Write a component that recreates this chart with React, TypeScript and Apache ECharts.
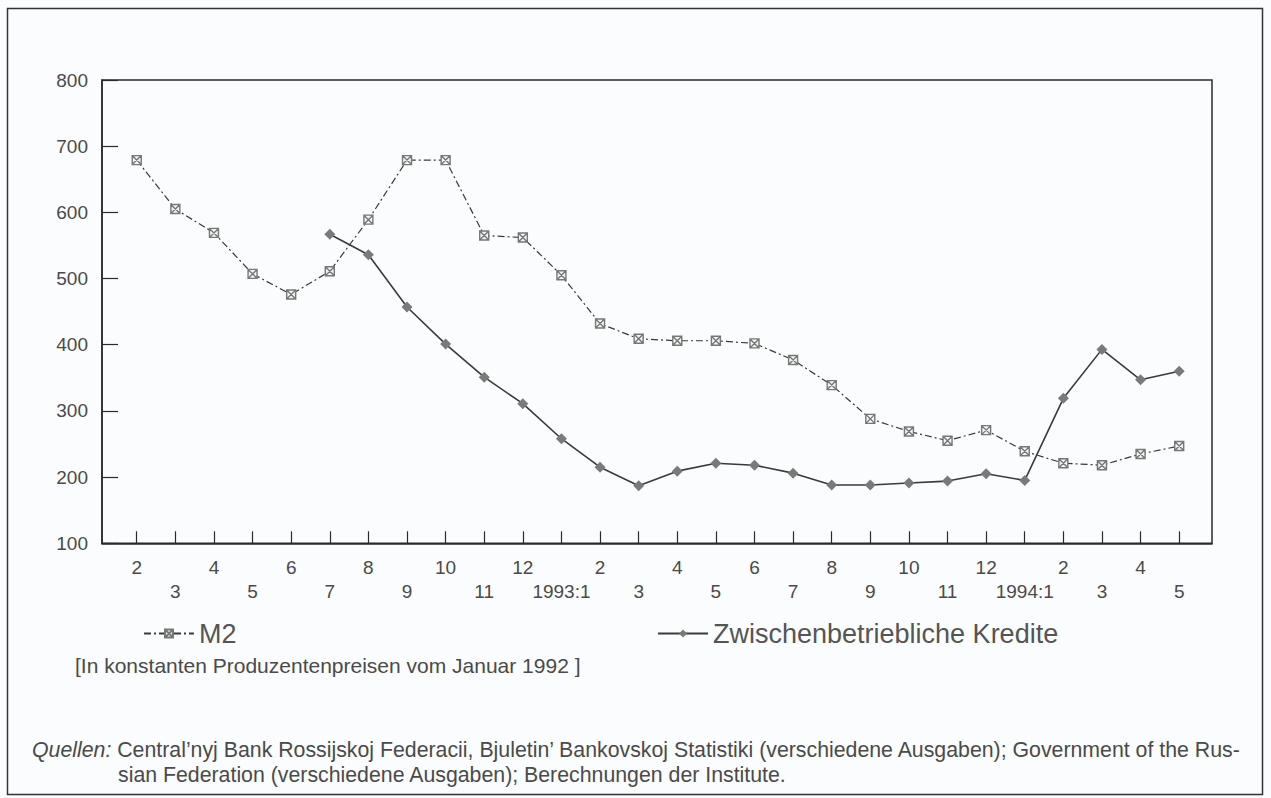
import React, { useEffect, useRef } from "react";
import * as echarts from "echarts";

const xLabels = ["2","3","4","5","6","7","8","9","10","11","12","1993:1","2","3","4","5","6","7","8","9","10","11","12","1994:1","2","3","4","5"];
const m2Values = [679, 605, 569, 507, 476, 511, 589, 679, 679, 565, 562, 505, 432, 409, 406, 406, 402, 377, 339, 288, 269, 255, 271, 239, 221, 218, 235, 247];
const krediteValues: (number | null)[] = [null, null, null, null, null, 567, 536, 457, 401, 351, 311, 258, 215, 187, 209, 221, 218, 206, 188, 188, 191, 194, 205, 195, 319, 393, 347, 360];
const yTicks = [100, 200, 300, 400, 500, 600, 700, 800];

const FONT = "'Liberation Sans', Arial, sans-serif";
const TEXT = "#4a4a4a";
const LINE = "#3a3a3a";

const m2Symbol = "path://M0,0L10,0L10,10L0,10Z M0,0L10,10 M10,0L0,10";

export default function App() {
  const ref = useRef<HTMLDivElement>(null);
  useEffect(() => {
    if (!ref.current) return;
    const chart = echarts.init(ref.current, null, { renderer: "svg" });
    const idx = xLabels.map((_, i) => i);
    chart.setOption({
      animation: false,
      backgroundColor: "#fbfcfd",
      textStyle: { fontFamily: FONT },
      grid: {
        left: 102, top: 80, width: 1110, height: 463.3,
        show: true, borderColor: "#2a2a2a", borderWidth: 1.5, backgroundColor: "transparent",
      },
      xAxis: {
        type: "value",
        min: -0.9,
        max: 27.85,
        splitLine: { show: false },
        axisLine: { show: true, onZero: false, lineStyle: { color: "#2a2a2a", width: 1.5 } },
        axisTick: { show: true, inside: true, length: 12, customValues: idx, lineStyle: { color: "#2a2a2a", width: 1.2 } },
        axisLabel: {
          customValues: idx,
          margin: 12,
          fontSize: 19,
          lineHeight: 24,
          color: TEXT,
          fontFamily: FONT,
          formatter: (v: number) => {
            const i = Math.round(v);
            const l = xLabels[i] ?? "";
            return i % 2 === 0 ? l : "\n" + l;
          },
        },
      },
      yAxis: {
        type: "value",
        min: 100,
        max: 800,
        interval: 100,
        splitLine: { show: false },
        axisLine: { show: true, onZero: false, lineStyle: { color: "#2a2a2a", width: 1.5 } },
        axisTick: { show: true, inside: true, length: 16, lineStyle: { color: "#2a2a2a", width: 1.2 } },
        axisLabel: {
          margin: 14, fontSize: 19, color: TEXT, fontFamily: FONT,
          customValues: yTicks,
        },
      },
      legend: [
        {
          data: ["M2"], left: 138, top: 615, itemWidth: 50, itemHeight: 10,
          textStyle: { fontSize: 27, color: "#555", fontFamily: FONT },
        },
        {
          data: ["Zwischenbetriebliche Kredite"], left: 652, top: 615, itemWidth: 50, itemHeight: 10,
          textStyle: { fontSize: 27, color: "#555", fontFamily: FONT },
        },
      ],
      series: [
        {
          name: "M2",
          type: "line",
          data: m2Values.map((v, i) => [i, v]),
          symbol: m2Symbol,
          symbolSize: 9,
          itemStyle: { color: "#f4f4f4", borderColor: "#777", borderWidth: 1.4 },
          lineStyle: { color: LINE, width: 1.2, type: [7, 3, 2, 3] },
        },
        {
          name: "Zwischenbetriebliche Kredite",
          type: "line",
          data: krediteValues.map((v, i) => [i, v]),
          connectNulls: false,
          symbol: "diamond",
          symbolSize: 11,
          itemStyle: { color: "#7a7a7a" },
          lineStyle: { color: LINE, width: 1.6 },
        },
      ],
      graphic: [
        {
          type: "rect", silent: true, z: -1,
          shape: { x: 7.5, y: 8.5, width: 1255, height: 786 },
          style: { fill: "none", stroke: "#333", lineWidth: 1.5 },
        },
        {
          type: "text", left: 75, top: 655,
          style: { text: "[In konstanten Produzentenpreisen vom Januar 1992 ]", fontSize: 21, fill: TEXT, fontFamily: FONT },
        },
        {
          type: "text", left: 32, top: 739,
          style: {
            text: "{i|Quellen:} Central’nyj Bank Rossijskoj Federacii, Bjuletin’ Bankovskoj Statistiki (verschiedene Ausgaben); Government of the Rus-",
            fontSize: 21.3, fill: TEXT, fontFamily: FONT,
            rich: { i: { fontStyle: "italic", fontSize: 21.3, fill: TEXT, fontFamily: FONT } },
          },
        },
        {
          type: "text", left: 118, top: 764,
          style: { text: "sian Federation (verschiedene Ausgaben); Berechnungen der Institute.", fontSize: 21.3, fill: TEXT, fontFamily: FONT },
        },
      ],
    });
    return () => chart.dispose();
  }, []);
  return <div ref={ref} style={{ position: "absolute", left: 0, top: 0, width: 1271, height: 798 }} />;
}
